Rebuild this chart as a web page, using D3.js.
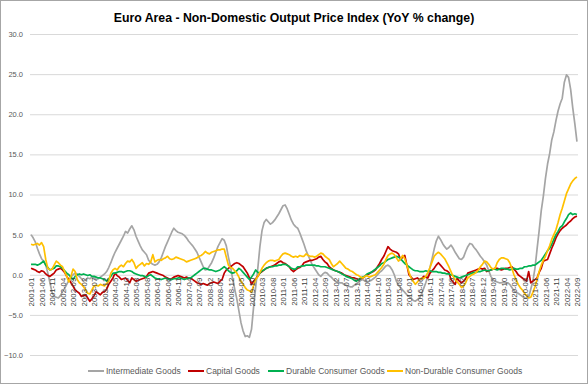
<!DOCTYPE html>
<html><head><meta charset="utf-8">
<script src="https://cdn.jsdelivr.net/npm/d3@7"></script>
<style>body{margin:0;background:#fff}svg{display:block}text{font-family:"Liberation Sans",Arial,sans-serif}</style>
</head><body><svg id="c" width="588" height="384"></svg>
<script>
const title = "Euro Area - Non-Domestic Output Price Index (YoY % change)";
const startYear = 2001, startMonth = 1, monthCount = 261;
const yTicks = [-10, -5, 0, 5, 10, 15, 20, 25, 30];
const labelEvery = 5;
const seriesNames = ["Intermediate Goods", "Capital Goods", "Durable Consumer Goods", "Non-Durable Consumer Goods"];
const seriesColors = ["#a5a5a5", "#c00000", "#00b050", "#ffc000"];

const intermediate = [
 5.0,4.6,4.1,3.3,2.6,2.0,1.7,1.2,0.2,-1.0,-2.2,-2.7,
 -2.8,-2.9,-2.6,-2.1,-1.7,-1.2,-0.7,-0.3,0.0,0.2,0.1,-0.2,
 -0.5,-0.8,-0.6,-0.4,-0.5,-0.3,-0.4,-0.6,-0.5,-0.3,-0.1,0.1,
 0.4,0.9,1.5,2.2,2.8,3.3,3.8,4.3,4.8,5.4,5.2,5.7,
 6.1,5.6,4.8,4.2,3.6,3.1,2.8,2.5,1.8,1.5,1.3,1.2,
 1.3,1.6,2.1,2.8,3.5,4.1,4.7,5.3,5.8,5.5,5.3,5.2,
 5.1,4.9,4.6,4.2,3.9,3.6,3.2,2.8,2.2,1.6,1.0,0.6,
 0.7,1.1,1.5,2.1,2.8,3.5,4.0,4.5,4.3,3.6,2.2,1.0,
 -0.5,-1.8,-3.0,-4.5,-6.0,-7.0,-7.7,-7.6,-7.8,-6.8,-4.0,-1.5,
 0.8,3.5,5.5,6.5,6.9,6.6,6.3,6.5,6.8,7.2,7.6,8.1,
 8.6,8.7,8.2,7.5,6.8,6.3,6.0,5.8,5.2,4.5,3.8,3.0,
 2.4,1.8,1.2,0.8,0.4,0.0,-0.2,0.1,0.3,0.2,-0.1,-0.3,
 -0.6,-0.8,-0.9,-1.0,-1.0,-1.2,-1.3,-1.4,-1.5,-1.5,-1.3,-1.1,
 -0.9,-0.7,-0.6,-0.8,-0.9,-0.8,-0.7,-0.5,-0.3,0.0,0.3,0.5,
 0.8,1.1,1.2,1.0,0.6,0.0,-0.8,-1.3,-1.6,-1.9,-2.2,-2.5,
 -2.7,-2.9,-3.2,-3.3,-3.1,-2.9,-2.4,-1.7,-1.0,-0.2,0.9,2.0,
 3.2,4.2,4.8,4.4,3.9,3.5,3.2,3.4,3.7,3.3,2.8,2.4,
 2.0,1.9,2.2,2.9,3.5,3.9,3.8,3.4,3.1,2.7,2.3,2.0,
 1.6,1.2,0.5,-0.2,-0.6,-0.8,-0.9,-1.0,-1.0,-0.9,-1.0,-1.0,
 -1.2,-1.6,-2.0,-2.2,-2.3,-2.5,-2.7,-2.9,-2.9,-2.8,-1.8,-0.8,
 0.8,3.2,5.5,8.0,9.8,12.0,13.8,15.1,16.8,17.8,19.2,20.4,
 21.3,22.0,24.0,24.9,24.6,23.1,20.8,18.8,16.6];

const capital = [
 0.8,0.7,0.6,0.4,0.3,0.5,0.4,0.1,-0.1,-0.2,0.0,0.2,
 0.6,0.7,0.8,0.6,0.3,-0.2,-0.6,-1.0,-1.4,-1.9,-2.1,-2.3,
 -2.7,-2.6,-2.5,-2.9,-3.3,-3.0,-2.6,-2.1,-2.3,-2.5,-2.2,-2.1,
 -1.8,-1.2,-0.8,-0.4,0.2,-0.1,-0.3,-0.6,-0.5,-0.4,-0.7,-1.0,
 -0.4,-0.6,-0.8,-0.7,-0.6,-0.5,-0.4,-0.2,0.2,0.3,0.4,0.3,
 0.2,0.1,0.0,-0.1,-0.3,-0.4,-0.6,-0.5,-0.3,-0.2,-0.1,-0.2,
 -0.3,-0.4,-0.3,-0.4,-0.4,-0.6,-0.8,-1.0,-1.1,-1.2,-1.1,-1.2,
 -1.3,-1.1,-1.0,-0.9,-1.0,-1.1,-0.8,-0.6,0.2,0.6,0.8,1.0,
 1.2,1.4,1.5,1.4,1.2,1.0,0.6,0.2,-0.4,-1.2,-0.8,-0.5,
 -0.2,0.2,0.4,0.6,0.8,0.9,1.0,1.1,1.2,1.4,1.6,1.7,
 1.5,1.4,1.2,1.0,0.6,0.4,0.6,0.8,0.9,1.1,1.5,1.6,
 1.7,1.8,1.8,1.9,2.0,2.2,2.3,1.9,1.6,1.4,1.0,0.8,
 0.6,0.5,0.4,0.3,0.2,0.0,-0.1,-0.2,-0.3,-0.4,-0.4,-0.5,
 -0.6,-0.5,-0.4,-0.2,0.0,0.1,0.3,0.4,0.6,1.0,1.4,1.9,
 2.3,2.9,3.5,3.2,3.0,2.9,2.8,2.6,1.9,2.2,2.4,1.2,
 0.0,-0.3,-0.6,-0.5,-0.4,-0.6,-0.5,-0.2,-0.3,-0.4,0.2,0.5,
 0.8,1.2,1.5,1.2,0.9,0.6,0.5,0.3,-0.6,-0.9,-1.2,-0.4,
 -0.8,-1.0,-0.8,-0.5,0.2,0.3,0.4,0.5,0.6,0.7,0.8,0.7,
 0.8,0.4,0.5,0.6,0.7,0.8,0.8,0.7,0.6,0.7,0.8,0.8,
 0.9,1.0,0.7,0.4,0.0,-0.2,-0.4,-0.6,-0.8,0.4,-1.0,-0.8,
 -0.6,-0.4,0.3,0.8,1.7,1.8,1.9,2.6,3.3,3.9,4.6,5.1,
 5.5,5.8,6.0,6.2,6.5,6.7,7.0,7.2,7.3];

const durable = [
 1.3,1.3,1.3,1.2,1.3,1.5,1.7,1.2,0.9,0.6,0.7,0.8,
 1.1,1.1,1.0,0.8,0.5,0.2,0.0,-0.3,-0.6,-0.2,0.0,0.1,
 0.0,0.1,0.0,-0.1,0.0,-0.2,-0.2,-0.3,-0.4,-0.4,-0.5,-0.6,
 -0.8,-0.5,-0.2,0.2,0.2,0.3,0.4,0.4,0.3,0.4,0.5,0.5,
 0.4,0.2,0.1,0.0,-0.1,-0.1,-0.2,-0.3,-0.1,0.0,-0.2,-0.4,
 -0.5,-0.5,-0.6,-0.5,-0.4,-0.5,-0.6,-0.6,-0.5,-0.5,-0.4,-0.4,
 -0.5,-0.6,-0.5,-0.4,-0.4,-0.2,0.0,0.2,0.4,0.6,0.8,0.8,
 0.7,0.6,0.6,0.5,0.4,0.5,0.6,0.8,1.0,0.8,0.5,0.3,
 0.2,0.3,0.5,0.8,0.6,0.3,0.0,-0.3,-0.6,-0.3,0.1,0.6,
 0.3,0.2,0.5,0.6,0.8,0.9,1.0,1.0,1.1,1.1,1.2,1.2,
 1.3,1.3,1.2,1.0,0.8,0.7,0.7,1.0,1.0,1.1,1.1,1.2,
 1.2,1.2,1.2,1.2,1.1,1.1,1.0,1.0,1.0,0.9,0.8,0.7,
 0.6,0.5,0.4,0.3,0.1,0.0,-0.2,-0.3,-0.4,-0.5,-0.7,-0.8,
 -0.6,-0.4,-0.3,-0.2,0.1,0.2,0.3,0.5,0.7,0.9,1.1,1.4,
 1.5,1.7,1.9,2.0,2.1,2.2,2.3,2.2,2.0,1.7,1.4,1.2,
 1.0,0.8,0.6,0.5,0.5,0.4,0.4,0.4,0.5,0.4,0.5,0.4,
 0.4,0.4,0.3,0.3,0.2,0.2,0.1,0.1,0.0,-0.1,-0.2,-0.3,
 -0.4,-0.3,-0.2,-0.1,0.0,0.1,0.2,0.3,0.3,0.4,0.4,0.5,
 0.6,0.5,0.5,0.6,0.7,0.7,0.6,0.7,0.8,0.8,0.7,0.7,
 0.6,0.7,0.8,0.7,0.7,0.8,0.8,1.0,1.0,1.1,1.1,1.2,
 1.2,1.4,1.6,1.8,2.2,2.6,3.0,3.3,3.8,4.4,5.0,5.4,
 5.9,6.1,6.6,7.0,7.5,7.7,7.5,7.6,7.5];

const nonDurable = [
 3.8,3.7,3.8,3.9,3.7,4.0,3.5,1.9,0.8,0.6,0.7,1.2,
 1.7,1.5,1.2,1.0,0.4,-0.2,-0.9,-0.2,0.7,0.4,-0.6,-1.0,
 -1.2,-1.5,-1.9,-2.3,-2.4,-1.9,-1.4,-1.3,-1.4,-1.2,-1.3,-1.4,
 -1.1,-0.8,0.2,0.6,0.8,0.6,1.0,1.2,1.0,1.4,1.7,1.6,
 1.9,1.5,0.8,1.1,1.3,1.5,1.1,1.4,1.3,1.6,2.5,1.6,
 1.8,1.9,1.8,2.0,2.1,2.3,2.0,1.9,2.0,2.2,2.1,2.0,
 1.9,1.8,1.6,1.7,1.8,1.9,2.0,2.1,2.3,2.4,2.6,2.9,
 2.7,2.6,2.8,2.9,3.0,3.1,3.1,3.2,3.2,2.2,1.2,0.9,
 0.8,0.5,0.2,-0.3,-0.8,-1.2,-1.6,-1.9,-2.0,-2.2,-1.3,-0.6,
 -0.2,0.3,0.8,1.2,1.5,1.7,1.8,1.8,1.7,1.8,1.9,2.3,
 2.6,2.7,2.6,2.5,2.3,2.2,2.3,2.2,2.4,2.3,2.3,2.6,
 2.4,2.3,2.3,2.2,2.3,2.5,2.7,2.6,2.3,2.1,1.9,1.4,
 1.0,1.2,1.4,1.7,1.4,1.1,0.8,0.7,0.5,0.4,0.2,0.0,
 -0.1,-0.3,-0.4,-0.2,-0.1,-0.3,-0.2,-0.1,0.0,0.3,0.6,0.9,
 1.3,1.9,2.4,2.6,2.7,2.5,2.1,1.7,2.0,2.4,2.0,1.2,
 0.3,-0.4,-0.8,-1.2,-0.9,-0.6,-0.4,-0.5,-0.2,0.3,0.9,1.6,
 2.3,2.6,2.8,2.6,2.3,2.0,1.5,1.0,0.4,-0.2,-0.6,-0.9,
 -1.2,-1.6,-1.4,-1.0,-0.4,-0.2,0.0,0.1,0.3,0.6,1.0,1.3,
 1.7,1.6,1.3,0.9,0.7,0.8,1.5,1.9,2.1,2.1,2.0,1.9,
 1.5,0.8,0.0,-0.6,-1.2,-1.6,-1.9,-2.3,-2.6,-2.9,-2.8,-2.2,
 -1.5,-0.6,0.4,1.2,1.8,2.3,3.0,3.6,4.4,5.0,5.6,6.5,
 7.5,8.3,9.2,10.1,10.7,11.3,11.7,12.0,12.2];

const seriesValues = [intermediate, capital, durable, nonDurable];

// category labels (YYYY-MM)
const categories = [];
for (let k = 0; k < monthCount; k++) {
  const m0 = startMonth - 1 + k;
  const yr = startYear + Math.floor(m0 / 12);
  const mo = (m0 % 12) + 1;
  categories.push(yr + "-" + (mo < 10 ? "0" + mo : mo));
}
const tickLabels = categories.filter((d, k) => k % labelEvery === 0);

const svg = d3.select("#c");
svg.append("rect").attr("x", 0.5).attr("y", 0.5).attr("width", 587).attr("height", 383)
  .attr("fill", "#fff").attr("stroke", "#a6a6a6");

const x = d3.scalePoint().domain(categories).range([30, 578]).padding(0.5);
const y = d3.scaleLinear().domain([-10, 30]).range([355, 34]);

// title
svg.append("text").attr("x", 294).attr("y", 22).attr("text-anchor", "middle")
  .attr("font-size", "12.3px").attr("font-weight", "bold").attr("fill", "#000").text(title);

// gridlines + y labels
const yAxis = d3.axisLeft(y).tickValues(yTicks).tickSize(-548).tickFormat(d3.format(".1f"));
const gy = svg.append("g").attr("transform", "translate(30,0)").call(yAxis);
gy.select(".domain").remove();
gy.selectAll(".tick line").attr("stroke", "#d9d9d9").attr("stroke-width", 1);
gy.selectAll(".tick text").attr("x", -7).attr("fill", "#595959").attr("font-size", "7.5px")
  .attr("font-family", "Liberation Sans, Arial, sans-serif");

// lines
const line = d3.line().x((d, k) => x(categories[k])).y(d => y(d));
seriesValues.forEach((vals, s) => {
  svg.append("path").datum(vals).attr("fill", "none").attr("stroke", seriesColors[s])
    .attr("stroke-width", 1.7).attr("stroke-linejoin", "round").attr("d", line);
});

// x axis labels at zero line
const xAxis = d3.axisBottom(x).tickValues(tickLabels).tickSize(0);
const gx = svg.append("g").attr("transform", `translate(0,${y(0)})`).call(xAxis);
gx.select(".domain").remove();
gx.selectAll(".tick text").attr("transform", "rotate(-90)").attr("text-anchor", "end")
  .attr("x", -3).attr("y", 0).attr("dy", "0.35em").attr("fill", "#404040").attr("font-size", "7.8px")
  .attr("font-family", "Liberation Sans, Arial, sans-serif");

// legend
const legendX = [88, 188, 268, 387];
const lg = svg.append("g").attr("transform", "translate(0,371)");
seriesNames.forEach((n, s) => {
  lg.append("line").attr("x1", legendX[s]).attr("x2", legendX[s] + 16).attr("y1", 0).attr("y2", 0)
    .attr("stroke", seriesColors[s]).attr("stroke-width", 2);
  lg.append("text").attr("x", legendX[s] + 18).attr("y", 0).attr("dy", "0.35em")
    .attr("font-size", "8.5px").attr("fill", "#595959").text(n);
});
</script></body></html>
